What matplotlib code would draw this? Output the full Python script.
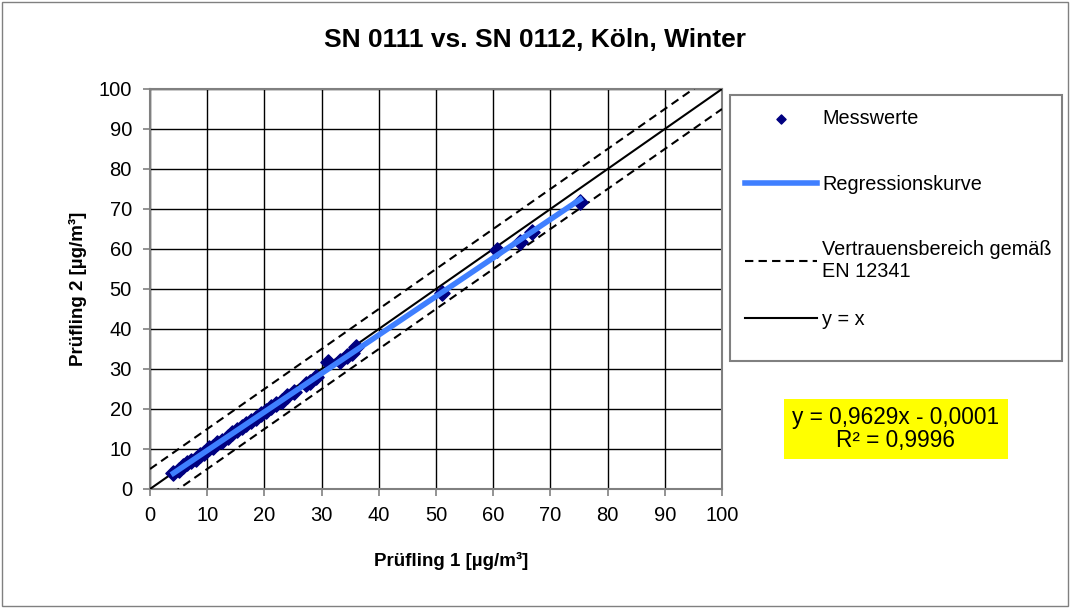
import matplotlib.pyplot as plt
import matplotlib.patches as mpatches
import numpy as np

plt.rcParams['font.family'] = ['Liberation Sans', 'DejaVu Sans']

pruefling_1 = [4.1, 5.0, 5.8, 6.5, 7.2, 8.0, 8.8, 9.5, 10.3, 11.0, 11.8, 12.5,
               13.6, 14.4, 15.2, 16.0, 16.8, 17.6, 18.5, 19.4, 20.3, 21.2, 22.1,
               23.0, 24.0, 25.2, 27.3, 28.0, 29.0, 31.1, 33.2, 34.4, 35.3, 36.1,
               51.0, 60.6, 64.7, 66.7, 75.2]
pruefling_2 = [3.9, 4.8, 5.7, 6.4, 7.0, 7.6, 8.5, 9.1, 10.2, 10.6, 11.5, 12.0,
               13.0, 14.1, 14.7, 15.6, 16.2, 16.9, 17.8, 18.8, 19.5, 20.6, 21.2,
               22.1, 23.2, 24.3, 26.3, 26.8, 28.0, 31.8, 32.0, 33.2, 34.1, 35.6,
               48.9, 59.8, 61.8, 64.3, 71.8]

slope, intercept = 0.9629, -0.0001
r2 = 0.9996
band = 5.0  # Vertrauensbereich gemäß EN 12341

W, H = 1070, 608
fig = plt.figure(figsize=(W / 100, H / 100), dpi=100)
ax = fig.add_axes([150 / W, 1 - 489 / H, 572 / W, 400 / H])

line_x = np.array([0, 100])
ax.plot(line_x, line_x + band, color='black', ls=(0, (4, 2.5)), lw=1.5, zorder=3)
ax.plot(line_x, line_x - band, color='black', ls=(0, (4, 2.5)), lw=1.5, zorder=3,
        label='Vertrauensbereich gemäß\nEN 12341')
ax.plot(line_x, line_x, color='black', lw=1.5, zorder=3, label='y = x')

ax.scatter(pruefling_1, pruefling_2, marker='D', s=60, color='#000080', zorder=4,
           label='Messwerte')
reg_x = np.array([min(pruefling_1), max(pruefling_1)])
ax.plot(reg_x, slope * reg_x + intercept, color='#3F7FFF', lw=4, zorder=5,
        label='Regressionskurve')

ax.set_xlim(0, 100)
ax.set_ylim(0, 100)
ax.set_xticks(np.arange(0, 101, 10))
ax.set_yticks(np.arange(0, 101, 10))
ax.grid(True, color='black', lw=1)
ax.set_axisbelow(True)
for s in ax.spines.values():
    s.set_color('#808080')
    s.set_linewidth(1.5)
ax.tick_params(labelsize=14.5, length=5, color='#808080', width=1.2)
ax.tick_params(axis='x', pad=7)
ax.tick_params(axis='y', pad=8)

ax.set_xlabel('Prüfling 1 [µg/m³]', fontsize=13.5, fontweight='bold')
ax.xaxis.set_label_coords((451 - 150) / 572, -(552 - 489) / 400)
ax.set_ylabel('Prüfling 2 [µg/m³]', fontsize=13.5, fontweight='bold')
ax.yaxis.set_label_coords(-(150 - 87) / 572, 0.5)
fig.text(0.5, 1 - 40 / H, 'SN 0111 vs. SN 0112, Köln, Winter', ha='center', va='center',
         fontsize=19, fontweight='bold')

# legend frame drawn separately to match the reference box
fig.patches.append(mpatches.Rectangle((730 / W, 1 - 361 / H), 332 / W, 266 / H,
                                      transform=fig.transFigure, fill=False,
                                      edgecolor='#808080', lw=1.5))
handles, labels = ax.get_legend_handles_labels()
hmap = dict(zip(labels, handles))
names_top = ['Messwerte', 'Regressionskurve', 'Vertrauensbereich gemäß\nEN 12341']
leg_kw = dict(loc='upper left', fontsize=14.3, frameon=False, handlelength=3.6,
              handletextpad=0.3, borderpad=0, borderaxespad=0, scatterpoints=1,
              markerscale=0.6)
fig.legend([hmap[n] for n in names_top], names_top,
           bbox_to_anchor=(745 / W, 1 - 109 / H), labelspacing=2.35, **leg_kw)
fig.legend([hmap['y = x']], ['y = x'],
           bbox_to_anchor=(745 / W, 1 - 310 / H), **leg_kw)

fig.text(896 / W, 1 - 429 / H,
         f'y = {slope:.4f}x - {abs(intercept):.4f}\nR² = {r2:.4f}'.replace('.', ','),
         ha='center', va='center', fontsize=16.3, linespacing=1.05)
fig.patches.append(mpatches.Rectangle((784 / W, 1 - 459 / H), 224 / W, 60 / H,
                                      transform=fig.transFigure, facecolor='#FFFF00',
                                      edgecolor='none', zorder=0))

fig.patches.append(mpatches.Rectangle((0.002, 0.003), 0.996, 0.994, transform=fig.transFigure,
                                      fill=False, edgecolor='#808080', lw=1))

fig.savefig('out.png', dpi=100)
